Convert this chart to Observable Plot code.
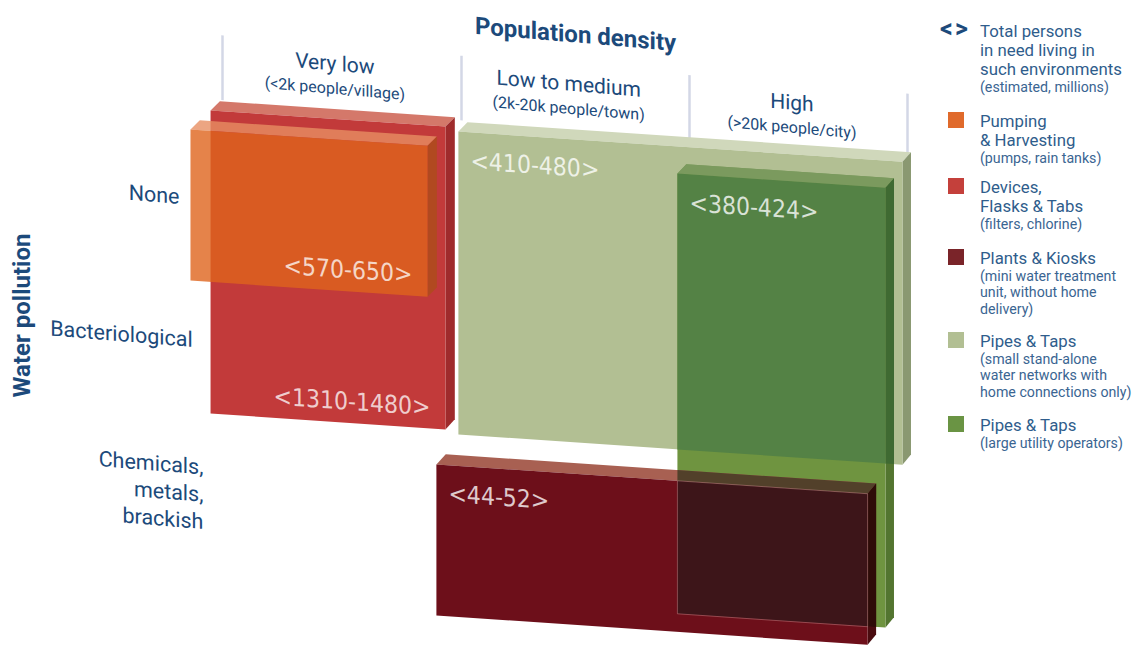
<!DOCTYPE html>
<html><head><meta charset="utf-8">
<script src="https://cdn.jsdelivr.net/npm/d3@7"></script>
<script src="https://cdn.jsdelivr.net/npm/@observablehq/plot@0.6"></script>
<style>
body{margin:0;background:#fff;}
#wrap{position:relative;width:1134px;height:651px;overflow:hidden;font-family:Roboto,"DejaVu Sans",sans-serif;}
#wrap svg{position:absolute;left:0;top:0;}
.lg{position:absolute;left:980px;color:#2f5d8c;white-space:nowrap;}
.lm{font-size:16.8px;line-height:19px;}
.ls{font-size:14.2px;line-height:16.5px;color:#3a6592;}
.sw{position:absolute;left:948px;width:16px;height:16px;}
</style></head><body><div id="wrap"></div><script>
// ---------- data ----------
const densityLevels = ["Very low", "Low to medium", "High"];
const densityNotes = ["(<2k people/village)", "(2k-20k people/town)", "(>20k people/city)"];
const pollutionLevels = ["None", "Bacteriological", "Chemicals,\nmetals,\nbrackish"];
const solutions = ["Pumping & Harvesting", "Devices, Flasks & Tabs", "Plants & Kiosks", "Pipes & Taps (small)", "Pipes & Taps (large)"];
const personsInNeed = ["570-650", "1310-1480", "44-52", "410-480", "380-424"];
const densityFrom = [0, 0, 1, 1, 2];
const densityTo   = [0, 0, 2, 2, 2];
const pollutionFrom = [0, 0, 2, 0, 0];
const pollutionTo   = [0, 1, 2, 1, 2];
const legendHeader = ["Total persons", "in need living in", "such environments"];
const legendHeaderNote = ["(estimated, millions)"];
const legendMain = [["Pumping", "& Harvesting"], ["Devices,", "Flasks & Tabs"], ["Plants & Kiosks"], ["Pipes & Taps"], ["Pipes & Taps"]];
const legendSub = [["(pumps, rain tanks)"], ["(filters, chlorine)"], ["(mini water treatment", "unit, without home", "delivery)"], ["(small stand-alone", "water networks with", "home connections only)"], ["(large utility operators)"]];

// ---------- styles / layout ----------
const NAVY = "#1c4a7b";
const style = [
  {front:"#de641d", top:"#e78e63", side:"#ac4e1a", opacity:0.8, legend:"#e06a2b", inset:[-0.134,-0.142,0.03,0.093], label:"end"},
  {front:"#c23a3a", top:"#d4786a", side:"#9f2b2c", opacity:1, legend:"#c4403b", inset:[-0.05,-0.067,-0.114,-0.021], label:"end"},
  {front:"#6d0f1a", top:"#a86052", side:"#4a0c10", opacity:1, legend:"#7a2429", inset:[-0.105,-0.183,0.21,0.191], label:"start"},
  {front:"#b2bf93", top:"#d0d8bb", side:"#8a9871", opacity:1, legend:"#b2bf93", inset:[-0.013,-0.023,-0.085,0.006], label:"start"},
  {front:"#6f9440", top:"#7b9a5e", side:"#537530", opacity:1, legend:"#6a9444", inset:[-0.053,-0.101,0.106,0.071], label:"start"}
];
const drawOrder = [1, 0, 3, 4, 2];
const overlaps = [
  {over:4, under:3, front:"#548245", top:"#7b9a5e", side:"#3f6a32"},
  {over:2, under:4, front:"#3d1519", top:"#52402a", side:"#2e0c08"}
];
const DU = 0.039, DV = -0.07;
const rowLabelX = [-0.18, -0.125, -0.08];
const legendTops = [121, 187, 258, 341, 425];

const boxes = solutions.map((name, i) => {
  const s = style[i];
  const u1 = densityFrom[i] + s.inset[0], u2 = densityTo[i] + 1 + s.inset[1];
  const v1 = pollutionFrom[i] + s.inset[2], v2 = pollutionTo[i] + 1 + s.inset[3];
  return {i, name, u1, u2, v1, v2, label: "<" + personsInNeed[i] + ">",
    front: [[u1,v1],[u2,v1],[u2,v2],[u1,v2]],
    top: [[u1,v1],[u2,v1],[u2+DU,v1+DV],[u1+DU,v1+DV]],
    side: [[u2,v1],[u2+DU,v1+DV],[u2+DU,v2+DV],[u2,v2]]};
});

function clipPoly(poly, r) {
  const ix = (a, b, x) => [x, a[1] + (b[1]-a[1]) * (x-a[0]) / (b[0]-a[0])];
  const iy = (a, b, y) => [a[0] + (b[0]-a[0]) * (y-a[1]) / (b[1]-a[1]), y];
  const edges = [
    [p => p[0] >= r.u1, (a,b) => ix(a,b,r.u1)],
    [p => p[0] <= r.u2, (a,b) => ix(a,b,r.u2)],
    [p => p[1] >= r.v1, (a,b) => iy(a,b,r.v1)],
    [p => p[1] <= r.v2, (a,b) => iy(a,b,r.v2)]
  ];
  let out = poly;
  for (const [inside, inter] of edges) {
    const inp = out; out = [];
    for (let j = 0; j < inp.length; j++) {
      const cur = inp[j], prev = inp[(j + inp.length - 1) % inp.length];
      if (inside(cur)) { if (!inside(prev)) out.push(inter(prev, cur)); out.push(cur); }
      else if (inside(prev)) out.push(inter(prev, cur));
    }
    if (!out.length) break;
  }
  return out;
}

const poly = (pts, fill, opacity = 1, extra = {}) => Plot.line(pts.map(([u, v]) => ({u, v})),
  {x: "u", y: "v", fill, fillOpacity: opacity, stroke: "none", curve: "linear-closed", ariaDescription: "skew-box", ...extra});

const marks = [];
// column dividers + headers
marks.push(Plot.ruleX([0, 1, 2, 3], {x: d => d, y1: -0.645, y2: -0.19, stroke: "#d3d7e6", strokeWidth: 2.5, ariaDescription: "skew-head"}));
marks.push(Plot.text(["Population density"], {x: 1.5, y: -0.865, text: d => d, fontSize: 24, fontWeight: "bold", fill: NAVY, ariaDescription: "skew-head"}));
marks.push(Plot.text(densityLevels, {x: (d, i) => i + 0.47, y: -0.515, text: d => d, fontSize: 21, fill: NAVY, ariaDescription: "skew-head"}));
marks.push(Plot.text(densityNotes, {x: (d, i) => i + 0.47, y: -0.34, text: d => d, fontSize: 16, fill: NAVY, ariaDescription: "skew-head"}));
// row labels
marks.push(Plot.text(pollutionLevels, {x: (d, i) => rowLabelX[i], y: (d, i) => i + 0.5, text: d => d, textAnchor: "end", lineHeight: 1.27, fontSize: 21.5, fill: NAVY, ariaDescription: "skew-row"}));
marks.push(Plot.text(["Water pollution"], {x: -0.837, y: 1.324, text: d => d, rotate: -90, fontSize: 24, fontWeight: "bold", fill: NAVY}));

// boxes
for (const i of drawOrder) {
  const b = boxes[i], s = style[i];
  marks.push(poly(b.top, s.top, s.opacity));
  marks.push(poly(b.side, s.side, s.opacity));
  marks.push(poly(b.front, s.front, s.opacity));
  for (const o of overlaps.filter(o => o.over === i)) {
    const under = boxes[o.under];
    const r = {u1: under.u1, u2: under.u2, v1: under.v1, v2: under.v2};
    for (const face of ["top", "side", "front"]) {
      const c = clipPoly(b[face], r);
      if (c.length > 2) marks.push(poly(c, o[face], 1, face === "front" && i === 2 ? {stroke: "#e8b0b0", strokeOpacity: 0.45, strokeWidth: 0.8} : {}));
    }
  }
}
// value labels
const endBoxes = boxes.filter(b => style[b.i].label === "end");
const startBoxes = boxes.filter(b => style[b.i].label === "start");
const labelFont = "'DejaVu Sans Condensed','Liberation Sans Narrow',Roboto,sans-serif";
marks.push(Plot.text(endBoxes, {x: "u2", y: "v2", text: "label", textAnchor: "end", dx: -15, dy: -21, fontSize: 24.5, fontWeight: 500, fill: "white", fillOpacity: 0.75, fontFamily: labelFont, ariaDescription: "skew-box"}));
marks.push(Plot.text(startBoxes, {x: "u1", y: "v1", text: "label", textAnchor: "start", dx: 12, dy: 29, fontSize: 24.5, fontWeight: 500, fill: "white", fillOpacity: 0.78, fontFamily: labelFont, ariaDescription: "skew-box"}));

const chart = Plot.plot({
  width: 1134, height: 651, margin: 0,
  x: {type: "linear", domain: [0, 1, 2, 3], range: [222, 461, 689, 907], axis: null},
  y: {type: "linear", domain: [0.5, 1.5, 2.5], range: [198, 340, 494], axis: null},
  style: {fontFamily: "Roboto, 'DejaVu Sans', sans-serif", background: "white", overflow: "visible"},
  marks
});
const x0 = chart.scale("x").apply(0);
for (const [desc, k] of [["skew-box", 0.068], ["skew-head", 0.085], ["skew-row", 0.08]]) {
  chart.querySelectorAll(`g[aria-description="${desc}"]`).forEach(g => {
    const t = g.getAttribute("transform") || "";
    g.setAttribute("transform", `matrix(1,${k},0,1,0,${-k * x0}) ${t}`);
  });
}
const wrap = document.getElementById("wrap");
wrap.appendChild(chart);

// legend
function addBlock(top, mains, subs) {
  const d = document.createElement("div");
  d.className = "lg";
  d.style.top = (top - 9.5) + "px";
  for (const m of mains) { const e = document.createElement("div"); e.className = "lm"; e.textContent = m; d.appendChild(e); }
  for (const s of subs) { const e = document.createElement("div"); e.className = "ls"; e.textContent = s; d.appendChild(e); }
  wrap.appendChild(d);
}
const icon = document.createElement("div");
icon.textContent = "< >";
Object.assign(icon.style, {position: "absolute", left: "940px", top: "15px", fontSize: "25px", fontWeight: "bold", color: NAVY, lineHeight: "28px", letterSpacing: "-2px"});
wrap.appendChild(icon);
addBlock(31, legendHeader, legendHeaderNote);
solutions.forEach((s, i) => {
  const sw = document.createElement("div");
  sw.className = "sw";
  sw.style.top = (legendTops[i] - 9) + "px";
  sw.style.background = style[i].legend;
  wrap.appendChild(sw);
  addBlock(legendTops[i], legendMain[i], legendSub[i]);
});
</script></body></html>
